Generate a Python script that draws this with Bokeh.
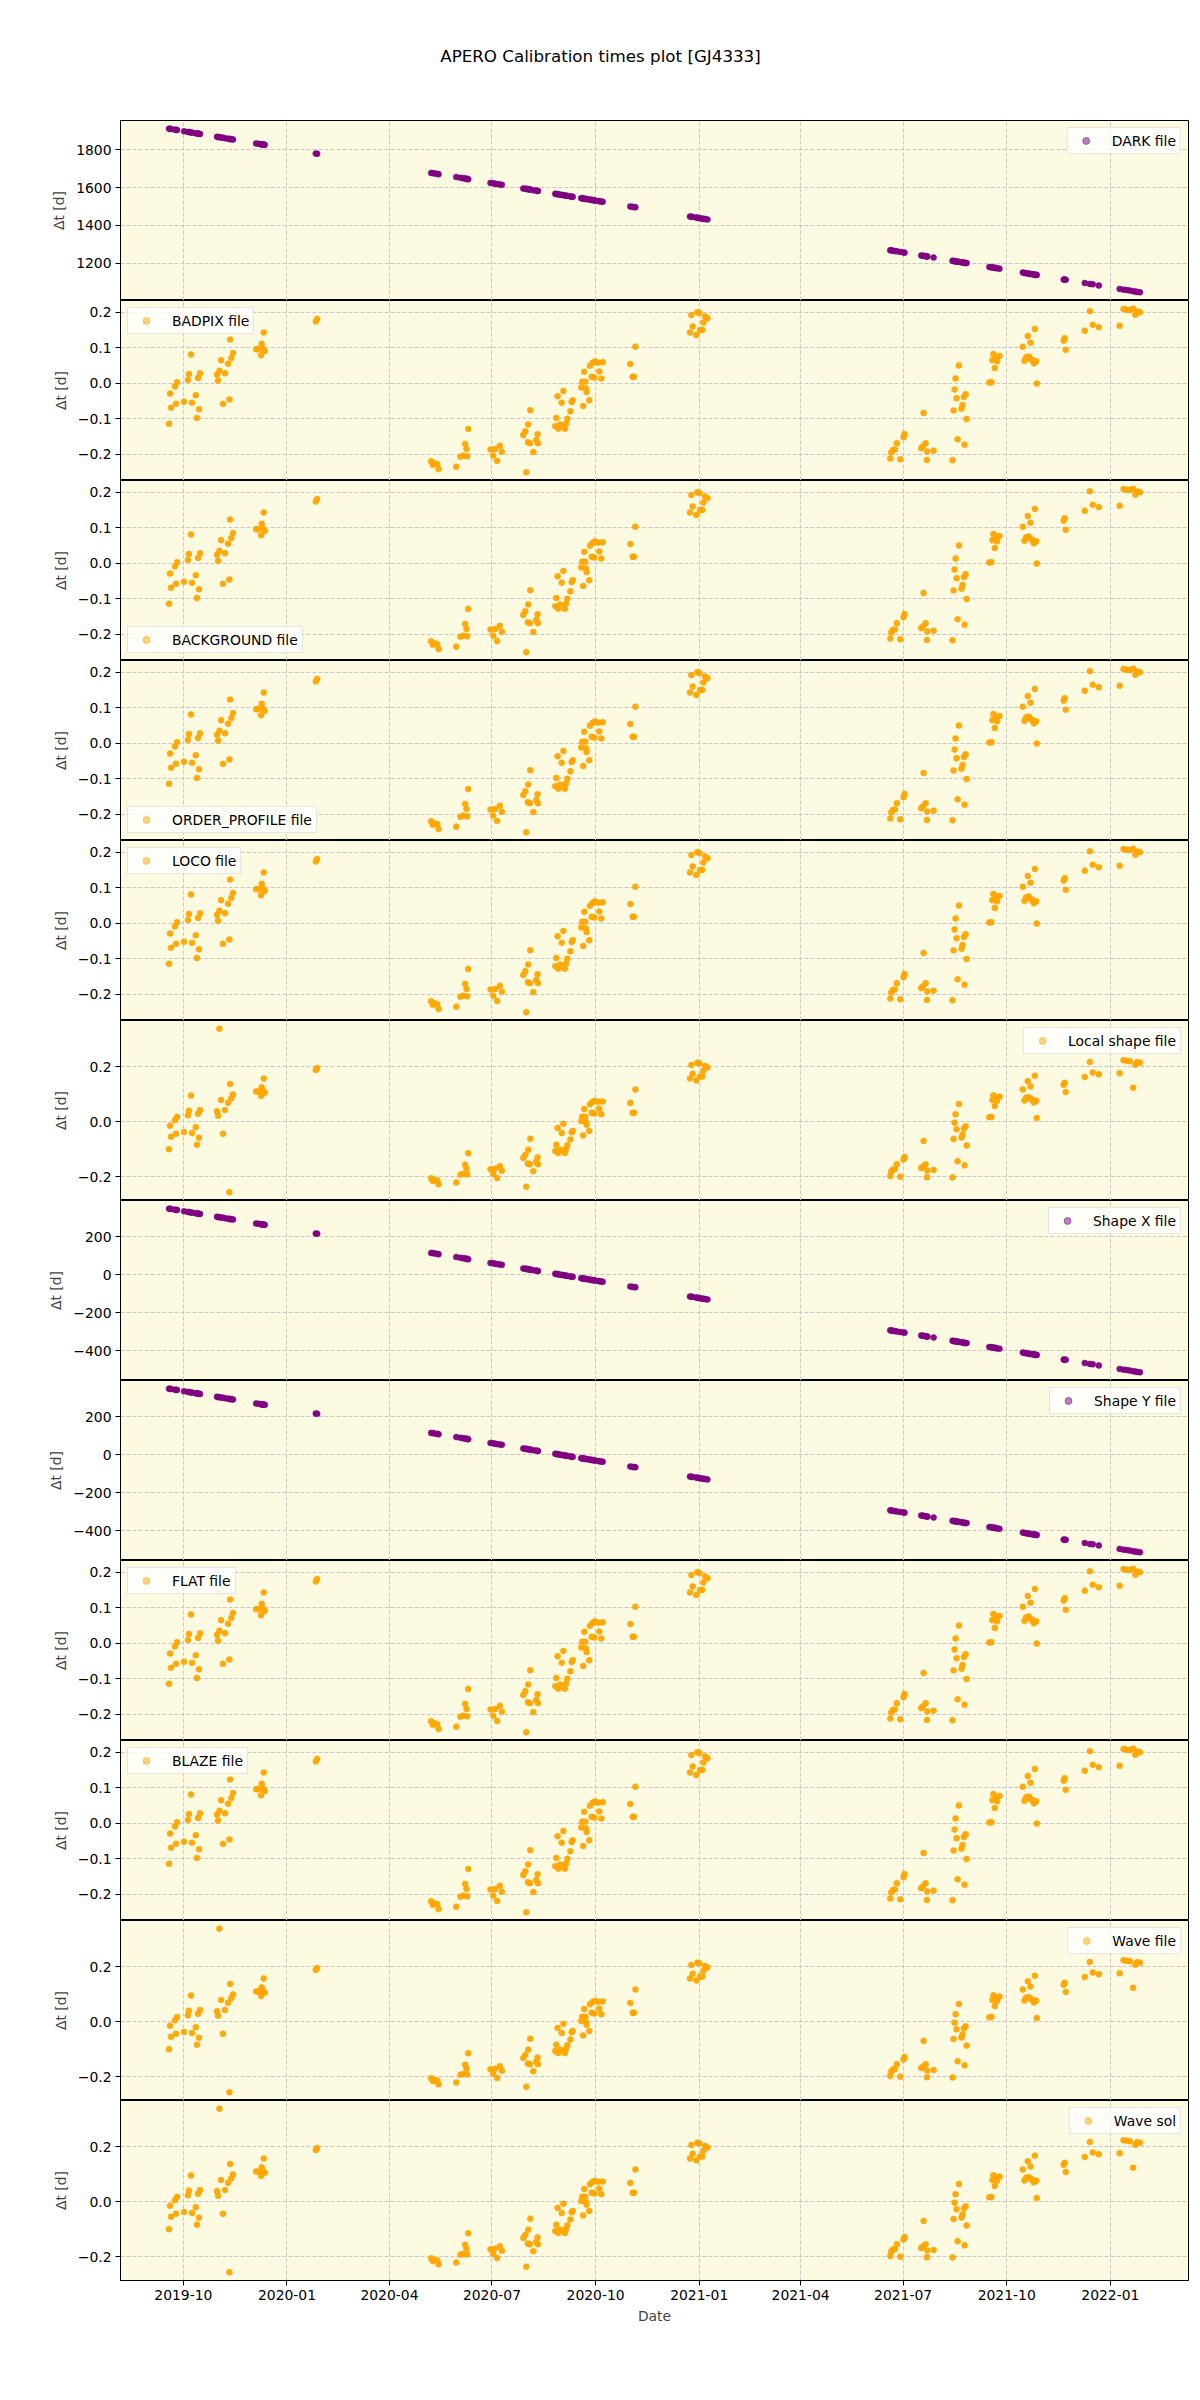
import pandas as pd
from bokeh.plotting import figure
from bokeh.layouts import column
from bokeh.core.properties import value
from bokeh.models import (ColumnDataSource, DataRange1d, Range1d, FixedTicker, CustomJSTickFormatter,
                          DatetimeTickFormatter)
from bokeh.embed import file_html
from bokeh.resources import INLINE

TITLE = "APERO Calibration times plot [GJ4333]"
start_date = "2019-10-01"

obs_day = [-12.7, -11.8, -10.9, -7.4, -6.5, -5.6, 0.6, 4.1, 5.0, 6.8, 7.7, 11.0, 12.1, 13.0, 13.9, 14.8,
           29.9, 30.8, 32.0, 33.5, 35.2, 37.0, 39.7, 40.9, 41.5, 42.6, 44.1,
           64.6, 66.6, 69.0, 69.6, 70.5, 71.4, 72.3,
           117.6, 118.8,
           220.0, 221.5, 223.0, 225.4, 226.6,
           242.3, 246.0, 248.5, 250.2, 251.4, 252.0, 252.9,
           272.7, 275.1, 276.8, 278.6, 281.0, 282.8,
           301.8, 303.6, 304.4, 306.2, 305.9, 308.0, 307.7, 310.7, 313.3, 314.5, 314.8,
           330.2, 331.1, 332.3, 332.9, 334.7, 335.9, 337.4, 338.8, 339.7, 340.9, 343.6, 344.8, 345.7,
           353.2, 354.1, 355.0, 355.9, 356.8, 357.4, 358.0, 360.4, 361.0, 362.5, 363.4, 364.8, 365.4, 368.4, 369.3, 371.1, 372.3,
           396.8, 398.9, 400.1, 401.3,
           449.8, 451.0, 452.2, 455.4, 456.3, 458.1, 458.7, 460.8, 461.7, 463.2, 465.3,
           627.6, 628.5, 630.0, 631.7, 633.5, 636.5, 639.4, 640.3,
           655.1, 656.6, 657.2, 659.0, 660.5, 660.2, 666.1,
           682.9, 683.8, 684.7, 685.6, 686.5, 687.4, 688.6, 690.9, 691.8, 693.0, 693.6, 694.5, 695.4,
           715.6, 717.4, 718.3, 719.2, 720.4, 721.3, 722.5, 724.6,
           745.3, 746.8, 748.2, 749.7, 750.6, 752.1, 752.7, 754.2, 755.1, 756.0, 757.1, 757.7,
           781.6, 782.5, 783.4,
           800.3, 804.8, 807.4, 812.8,
           831.3, 834.7, 837.4, 840.2, 843.2, 845.2, 846.9, 849.3]

dark_dt = [1910, 1909, 1908, 1904, 1904, 1903, 1896, 1893, 1892, 1890, 1889, 1886, 1885, 1884, 1883, 1882,
           1867, 1866, 1865, 1864, 1862, 1860, 1857, 1856, 1856, 1854, 1853,
           1832, 1830, 1828, 1827, 1827, 1826, 1825,
           1779, 1778,
           1677, 1676, 1674, 1672, 1670,
           1655, 1651, 1649, 1647, 1646, 1645, 1644,
           1624, 1622, 1620, 1618, 1616, 1614,
           1595, 1593, 1593, 1591, 1591, 1589, 1589, 1586, 1584, 1582, 1582,
           1567, 1566, 1565, 1564, 1562, 1561, 1560, 1558, 1557, 1556, 1553, 1552, 1551,
           1544, 1543, 1542, 1541, 1540, 1540, 1539, 1537, 1536, 1535, 1534, 1532, 1532, 1529, 1528, 1526, 1525,
           1500, 1498, 1497, 1496,
           1447, 1446, 1445, 1442, 1441, 1439, 1438, 1436, 1435, 1434, 1432,
           1269, 1269, 1267, 1265, 1264, 1261, 1258, 1257,
           1242, 1240, 1240, 1238, 1237, 1237, 1231,
           1214, 1213, 1212, 1211, 1211, 1210, 1208, 1206, 1205, 1204, 1203, 1203, 1202,
           1181, 1180, 1179, 1178, 1177, 1176, 1175, 1172,
           1152, 1150, 1149, 1147, 1146, 1145, 1144, 1143, 1142, 1141, 1140, 1139,
           1115, 1115, 1114,
           1097, 1092, 1090, 1084,
           1066, 1062, 1060, 1057, 1054, 1052, 1050, 1048]

shape_x_dt = [348, 347, 346, 342, 342, 341, 334, 331, 330, 328, 327, 324, 323, 322, 321, 320,
              305, 304, 303, 302, 300, 298, 295, 294, 294, 292, 291,
              270, 268, 266, 265, 265, 264, 263,
              217, 216,
              115, 114, 112, 110, 108,
              93, 89, 87, 85, 84, 83, 82,
              62, 60, 58, 56, 54, 52,
              33, 31, 31, 29, 29, 27, 27, 24, 22, 20, 20,
              5, 4, 3, 2, 0, -1, -2, -4, -5, -6, -9, -10, -11,
              -18, -19, -20, -21, -22, -22, -23, -25, -26, -28, -28, -30, -30, -33, -34, -36, -37,
              -62, -64, -65, -66,
              -115, -116, -117, -120, -121, -123, -124, -126, -127, -128, -130,
              -293, -294, -295, -297, -299, -302, -304, -305,
              -320, -322, -322, -324, -326, -325, -331,
              -348, -349, -350, -351, -352, -352, -354, -356, -357, -358, -359, -360, -360,
              -381, -382, -383, -384, -385, -386, -388, -390,
              -410, -412, -413, -415, -416, -417, -418, -419, -420, -421, -422, -423,
              -447, -448, -448,
              -465, -470, -472, -478,
              -496, -500, -502, -505, -508, -510, -512, -514]

shape_y_dt = [348, 347, 346, 342, 342, 341, 334, 331, 330, 328, 327, 324, 323, 322, 321, 320,
              305, 304, 303, 302, 300, 298, 295, 294, 294, 292, 291,
              270, 268, 266, 265, 265, 264, 263,
              217, 216,
              115, 114, 112, 110, 108,
              93, 89, 87, 85, 84, 83, 82,
              62, 60, 58, 56, 54, 52,
              33, 31, 31, 29, 29, 27, 27, 24, 22, 20, 20,
              5, 4, 3, 2, 0, -1, -2, -4, -5, -6, -9, -10, -11,
              -18, -19, -20, -21, -22, -22, -23, -25, -26, -28, -28, -30, -30, -33, -34, -36, -37,
              -62, -64, -65, -66,
              -115, -116, -117, -120, -121, -123, -124, -126, -127, -128, -130,
              -293, -294, -295, -297, -299, -302, -304, -305,
              -320, -322, -322, -324, -326, -325, -331,
              -348, -349, -350, -351, -352, -352, -354, -356, -357, -358, -359, -360, -360,
              -381, -382, -383, -384, -385, -386, -388, -390,
              -410, -412, -413, -415, -416, -417, -418, -419, -420, -421, -422, -423,
              -447, -448, -448,
              -465, -470, -472, -478,
              -496, -500, -502, -505, -508, -510, -512, -514]

# nightly calibrations (BADPIX, BACKGROUND, ORDER_PROFILE, LOCO, FLAT, BLAZE)
night_dt = [-0.114, -0.029, -0.069, -0.009, -0.058, 0.003, -0.052, 0.009, 0.026, 0.081, -0.055, -0.034, -0.098, 0.015, -0.073, 0.028,
            0.024, 0.007, 0.035, 0.065, -0.058, 0.028, 0.055, -0.046, 0.123, 0.071, 0.085,
            0.096, 0.096, 0.079, 0.111, 0.098, 0.143, 0.091,
            0.174, 0.181,
            -0.220, -0.230, -0.226, -0.228, -0.242,
            -0.235, -0.207, -0.204, -0.171, -0.185, -0.206, -0.129,
            -0.187, -0.204, -0.185, -0.219, -0.176, -0.193,
            -0.146, -0.135, -0.251, -0.116, -0.166, -0.076, -0.169, -0.194, -0.160, -0.144, -0.169,
            -0.121, -0.098, -0.037, -0.128, -0.116, -0.055, -0.022, -0.128, -0.114, -0.100, -0.079, -0.053, -0.048,
            -0.012, 0.004, -0.064, 0.032, 0.004, -0.015, -0.025, -0.048, 0.049, 0.018, 0.058, 0.016, 0.061, 0.058, 0.033, 0.013, 0.059,
            0.054, 0.018, 0.018, 0.103,
            0.143, 0.192, 0.160, 0.136, 0.200, 0.198, 0.150, 0.150, 0.171, 0.188, 0.183,
            -0.212, -0.195, -0.188, -0.187, -0.169, -0.214, -0.152, -0.143,
            -0.183, -0.178, -0.084, -0.169, -0.192, -0.216, -0.190,
            -0.217, -0.077, -0.018, 0.013, -0.042, -0.158, 0.050, -0.072, -0.061, -0.039, -0.173, -0.031, -0.101,
            0.002, 0.003, 0.065, 0.082, 0.043, 0.073, 0.062, 0.077,
            0.103, 0.063, 0.073, 0.133, 0.075, 0.114, 0.067, 0.065, 0.056, 0.153, 0.062, -0.001,
            0.120, 0.127, 0.094,
            0.148, 0.203, 0.165, 0.158,
            0.162, 0.209, 0.207, 0.206, 0.210, 0.193, 0.202, 0.200]

# Local shape, Wave file, Wave sol
wave_dt = [-0.100, -0.015, -0.055, 0.005, -0.044, 0.017, -0.038, 0.023, 0.040, 0.095, -0.041, -0.020, -0.084, 0.029, -0.059, 0.042,
           0.038, 0.021, 0.338, 0.079, -0.044, 0.042, 0.069, -0.257, 0.137, 0.085, 0.099,
           0.110, 0.110, 0.093, 0.125, 0.112, 0.157, 0.105,
           0.188, 0.195,
           -0.206, -0.216, -0.212, -0.214, -0.228,
           -0.221, -0.193, -0.190, -0.157, -0.171, -0.192, -0.115,
           -0.173, -0.190, -0.171, -0.205, -0.162, -0.179,
           -0.132, -0.121, -0.237, -0.102, -0.152, -0.062, -0.155, -0.180, -0.146, -0.130, -0.155,
           -0.107, -0.084, -0.023, -0.114, -0.102, -0.041, -0.008, -0.114, -0.100, -0.086, -0.065, -0.039, -0.034,
           0.002, 0.018, -0.050, 0.046, 0.018, -0.001, -0.011, -0.034, 0.063, 0.032, 0.072, 0.030, 0.075, 0.072, 0.047, 0.027, 0.073,
           0.068, 0.032, 0.032, 0.117,
           0.157, 0.206, 0.174, 0.150, 0.214, 0.212, 0.164, 0.164, 0.185, 0.202, 0.197,
           -0.198, -0.181, -0.174, -0.173, -0.155, -0.200, -0.138, -0.129,
           -0.169, -0.164, -0.070, -0.155, -0.178, -0.202, -0.176,
           -0.203, -0.063, -0.004, 0.027, -0.028, -0.144, 0.064, -0.058, -0.047, -0.025, -0.159, -0.017, -0.087,
           0.016, 0.017, 0.079, 0.096, 0.057, 0.087, 0.076, 0.091,
           0.117, 0.077, 0.087, 0.147, 0.089, 0.128, 0.081, 0.079, 0.070, 0.167, 0.076, 0.013,
           0.134, 0.141, 0.108,
           0.162, 0.217, 0.179, 0.172,
           0.176, 0.223, 0.221, 0.220, 0.123, 0.207, 0.216, 0.214]

x_tick_dates = ["2019-10-01", "2020-01-01", "2020-04-01", "2020-07-01", "2020-10-01",
                "2021-01-01", "2021-04-01", "2021-07-01", "2021-10-01", "2022-01-01"]
dark_ticks = [1200, 1400, 1600, 1800]
night_ticks = [-0.2, -0.1, 0.0, 0.1, 0.2]
wave_ticks = [-0.2, 0.0, 0.2]
shape_ticks = [-400, -200, 0, 200]

# (legend label, column, colour, legend location, y ticks, decimals)
panels = [
    ("DARK file", "dark", "purple", "top_right", dark_ticks, 0),
    ("BADPIX file", "night", "orange", "top_left", night_ticks, 1),
    ("BACKGROUND file", "night", "orange", "bottom_left", night_ticks, 1),
    ("ORDER_PROFILE file", "night", "orange", "bottom_left", night_ticks, 1),
    ("LOCO file", "night", "orange", "top_left", night_ticks, 1),
    ("Local shape file", "wave", "orange", "top_right", wave_ticks, 1),
    ("Shape X file", "shapex", "purple", "top_right", shape_ticks, 0),
    ("Shape Y file", "shapey", "purple", "top_right", shape_ticks, 0),
    ("FLAT file", "night", "orange", "top_left", night_ticks, 1),
    ("BLAZE file", "night", "orange", "top_left", night_ticks, 1),
    ("Wave file", "wave", "orange", "top_right", wave_ticks, 1),
    ("Wave sol", "wave", "orange", "top_right", wave_ticks, 1),
]

t0 = pd.Timestamp(start_date)
dates = t0 + pd.to_timedelta(obs_day, unit="D")
src = ColumnDataSource(dict(date=dates, dark=dark_dt, night=night_dt, wave=wave_dt,
                            shapex=shape_x_dt, shapey=shape_y_dt))
# one-row source used only for the legend swatch (y is NaN, so nothing is drawn)
legend_src = ColumnDataSource(dict(date=dates[:1], y=[float("nan")]))
xticks_ms = [pd.Timestamp(d).value / 1e6 for d in x_tick_dates]

FONT = "DejaVu Sans"
FS = "13.9px"
BG = "#fcfae1"
GRID = "#c8c8c8"
W = 1192
LEFT = 120
RIGHT = 4
PANEL_H = 180
TOP = 120
BOTTOM = 62

# ---- title strip (figure-level title, centred on the page like a suptitle) ----
# the column aligns this strip's frame with the panels below (LEFT .. W-RIGHT),
# so its x range is expressed in page pixels over that span
tfig = figure(width=W, height=TOP, x_range=Range1d(LEFT, W - RIGHT), y_range=Range1d(0, TOP),
              output_backend="svg", toolbar_location=None,
              x_axis_location=None, y_axis_location=None,
              min_border=0, min_border_left=0, min_border_right=0,
              min_border_top=0, min_border_bottom=0)
tfig.grid.visible = False
tfig.outline_line_color = None
tfig.background_fill_color = "white"
tfig.border_fill_color = "white"
tfig.text(x=[600], y=[TOP - 55], text=[TITLE], text_align="center", text_baseline="middle",
          text_font=value(FONT), text_font_size="16.7px", text_color="black")

xr = DataRange1d()
figs = [tfig]
n = len(panels)
for i, (label, col, color, loc, yt, dec) in enumerate(panels):
    last = i == n - 1
    h = PANEL_H + (BOTTOM if last else 0)
    p = figure(width=W, height=h, x_axis_type="datetime", x_range=xr,
               output_backend="svg", toolbar_location=None,
               min_border_left=LEFT, min_border_right=RIGHT,
               min_border_top=0,
               min_border_bottom=BOTTOM if last else 0)
    p.background_fill_color = BG
    p.border_fill_color = "white"
    p.outline_line_color = "black"
    p.outline_line_alpha = 1.0
    p.outline_line_width = 1

    p.scatter("date", col, source=src, size=6, fill_color=color, line_color=color,
              line_width=0.5, alpha=0.95)
    # legend entry (lighter marker as in the reference)
    p.scatter("date", "y", source=legend_src, size=5, fill_color=color, line_color=color,
              alpha=0.5, legend_label=label)

    p.yaxis.ticker = FixedTicker(ticks=yt)
    p.yaxis.formatter = CustomJSTickFormatter(args=dict(d=dec), code="""
        const s = Math.abs(tick).toFixed(d);
        return (tick < 0 ? '\u2212' : '') + s;
    """)
    p.yaxis.axis_label = "Δt [d]"
    p.yaxis.axis_label_text_font = FONT
    p.yaxis.axis_label_text_font_size = FS
    p.yaxis.axis_label_text_font_style = "normal"
    p.yaxis.axis_label_standoff = 6
    p.yaxis.major_label_text_font = FONT
    p.yaxis.major_label_text_font_size = FS
    p.yaxis.major_label_text_color = "black"
    p.yaxis.major_tick_out = 5
    p.yaxis.major_tick_in = 0
    p.yaxis.minor_tick_out = 0
    p.yaxis.minor_tick_in = 0
    p.yaxis.major_label_standoff = 4
    p.yaxis.axis_line_color = "black"
    p.yaxis.major_tick_line_color = "black"

    p.xaxis.ticker = FixedTicker(ticks=xticks_ms)
    p.xaxis.formatter = DatetimeTickFormatter(months="%Y-%m", days="%Y-%m", years="%Y-%m")
    p.xgrid.ticker = FixedTicker(ticks=xticks_ms)
    if last:
        p.xaxis.axis_label = "Date"
        p.xaxis.axis_label_text_font = FONT
        p.xaxis.axis_label_text_font_size = FS
        p.xaxis.axis_label_text_font_style = "normal"
        p.xaxis.axis_label_standoff = 5
        p.xaxis.major_label_text_font = FONT
        p.xaxis.major_label_text_font_size = FS
        p.xaxis.major_label_text_color = "black"
        p.xaxis.major_tick_out = 5
        p.xaxis.major_tick_in = 0
        p.xaxis.minor_tick_out = 0
        p.xaxis.minor_tick_in = 0
        p.xaxis.major_label_standoff = 4
        p.xaxis.axis_line_color = "black"
    else:
        p.xaxis.visible = False

    for g in (p.xgrid, p.ygrid):
        g.grid_line_color = GRID
        g.grid_line_dash = "4 2"
        g.grid_line_width = 1

    lg = p.legend[0]
    lg.location = loc
    lg.label_text_font = FONT
    lg.label_text_font_size = FS
    lg.label_text_color = "black"
    lg.background_fill_color = "white"
    lg.background_fill_alpha = 0.8
    lg.border_line_color = "#cccccc"
    lg.border_line_width = 1
    lg.padding = 4
    lg.margin = 7
    lg.glyph_width = 28
    lg.glyph_height = 17
    lg.label_height = 17
    lg.label_standoff = 12
    lg.spacing = 0

    figs.append(p)

layout = column(*figs, spacing=0)
html = file_html(layout, INLINE, TITLE)
open("out.html", "w", encoding="utf-8").write(html)
